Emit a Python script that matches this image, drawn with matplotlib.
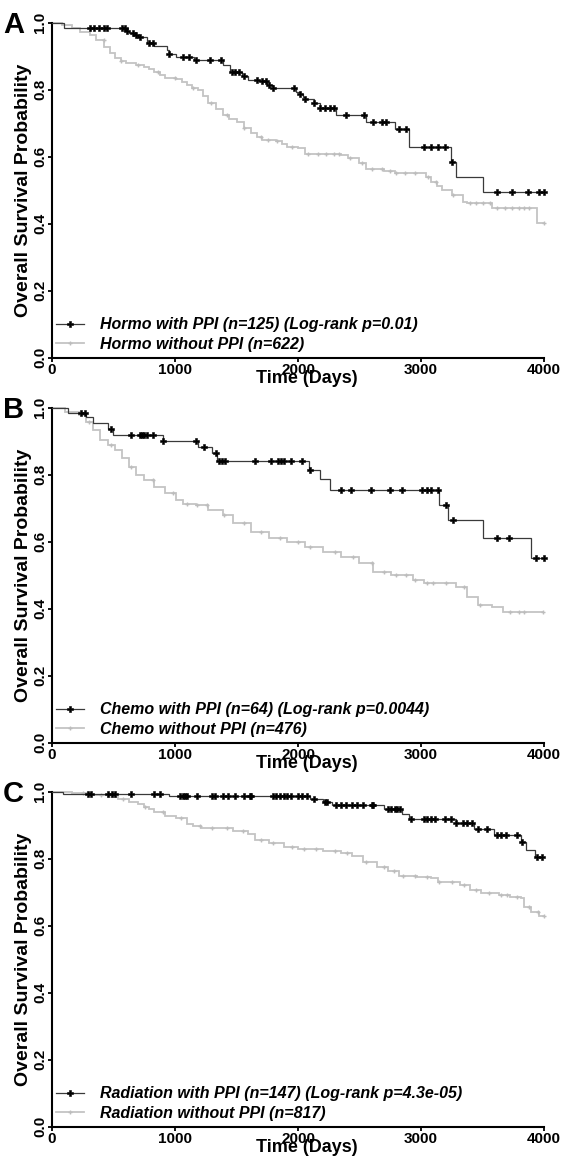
import numpy as np
import matplotlib
matplotlib.use("Agg")
import matplotlib.pyplot as plt
from matplotlib.lines import Line2D

plt.rcParams['font.family'] = ['Liberation Sans', 'DejaVu Sans']

# ---------------- data ----------------
panel_letters = ["A", "B", "C"]
x_ticks = [0, 1000, 2000, 3000, 4000]
y_ticks = [0.0, 0.2, 0.4, 0.6, 0.8, 1.0]
x_label = "Time (Days)"
y_label = "Overall Survival Probability"

# Panel A: Hormo
a_with_label = "Hormo with PPI (n=125) (Log-rank p=0.01)"
a_without_label = "Hormo without PPI (n=622)"
a_with_t = [0, 100, 599, 628, 672, 701, 774, 832, 934, 949, 1007, 1153, 1387, 1445, 1548,
            1591, 1679, 1752, 1796, 1986, 2015, 2044, 2059, 2132, 2175, 2307, 2555, 2789,
            2905, 3241, 3285, 3504]
a_with_s = [1.0, 0.984, 0.976, 0.968, 0.962, 0.956, 0.940, 0.930, 0.918, 0.908, 0.899, 0.888,
            0.874, 0.854, 0.842, 0.830, 0.825, 0.814, 0.804, 0.794, 0.786, 0.779, 0.772,
            0.759, 0.744, 0.724, 0.704, 0.682, 0.630, 0.585, 0.540, 0.495]
a_with_cens = [307, 342, 380, 423, 447, 569, 593, 613, 657, 686, 715, 788, 818, 949, 1066, 1110,
               1168, 1285, 1372, 1460, 1489, 1518, 1562, 1664, 1708, 1737, 1767, 1796, 1971,
               2015, 2059, 2132, 2175, 2219, 2263, 2292, 2394, 2540, 2613, 2686, 2716, 2818,
               2876, 3022, 3081, 3139, 3197, 3250, 3621, 3738, 3869, 3957, 4000]
a_without_t = [0, 80, 161, 230, 307, 360, 423, 470, 511, 560, 599, 680, 745, 790, 832, 880, 920,
               1007, 1060, 1095, 1140, 1183, 1230, 1270, 1330, 1387, 1440, 1504, 1560, 1621,
               1670, 1708, 1825, 1870, 1913, 2000, 2059, 2351, 2409, 2497, 2555, 2701, 2789,
               2978, 3040, 3081, 3130, 3168, 3256, 3343, 3373, 3577, 3942]
a_without_s = [1.0, 0.992, 0.983, 0.973, 0.963, 0.948, 0.928, 0.910, 0.894, 0.885, 0.879,
               0.874, 0.869, 0.862, 0.854, 0.844, 0.834, 0.832, 0.823, 0.814, 0.806, 0.799,
               0.780, 0.759, 0.742, 0.724, 0.714, 0.704, 0.686, 0.670, 0.660, 0.650, 0.647,
               0.638, 0.630, 0.625, 0.608, 0.605, 0.595, 0.580, 0.562, 0.558, 0.552, 0.550,
               0.538, 0.525, 0.512, 0.500, 0.486, 0.466, 0.461, 0.446, 0.401]
a_without_cens = [420, 560, 700, 860, 1000, 1150, 1290, 1420, 1560, 1700, 1760, 1830, 1950,
                  2080, 2160, 2230, 2290, 2330, 2420, 2520, 2600, 2680, 2750, 2800, 2870, 2950,
                  3060, 3120, 3260, 3400, 3450, 3500, 3560, 3620, 3680, 3740, 3800, 3840, 3880,
                  4000]

# Panel B: Chemo
b_with_label = "Chemo with PPI (n=64) (Log-rank p=0.0044)"
b_without_label = "Chemo without PPI (n=476)"
b_with_t = [0, 131, 277, 336, 453, 496, 905, 1183, 1299, 1343, 2088, 2175, 2263, 3150, 3221,
            3504, 3892]
b_with_s = [1.0, 0.985, 0.971, 0.953, 0.936, 0.918, 0.900, 0.882, 0.864, 0.841, 0.814, 0.786,
            0.754, 0.711, 0.665, 0.612, 0.550]
b_with_cens = [234, 272, 482, 642, 715, 730, 745, 774, 818, 905, 1168, 1235, 1337, 1358, 1381,
               1410, 1650, 1781, 1840, 1863, 1883, 1942, 2029, 2097, 2351, 2432, 2593, 2745,
               2847, 3008, 3046, 3081, 3140, 3206, 3262, 3621, 3717, 3936, 4000]
b_without_t = [0, 102, 219, 277, 336, 394, 453, 511, 569, 628, 686, 745, 832, 920, 1007, 1066,
               1168, 1270, 1387, 1475, 1621, 1767, 1913, 2059, 2205, 2351, 2497, 2613, 2759,
               2935, 3022, 3197, 3285, 3373, 3460, 3577, 3665]
b_without_s = [1.0, 0.988, 0.978, 0.958, 0.933, 0.903, 0.889, 0.874, 0.849, 0.824, 0.799,
               0.784, 0.764, 0.744, 0.724, 0.714, 0.709, 0.695, 0.680, 0.655, 0.630, 0.610,
               0.600, 0.585, 0.570, 0.555, 0.537, 0.510, 0.500, 0.486, 0.478, 0.476, 0.464,
               0.436, 0.411, 0.406, 0.391]
b_without_cens = [300, 480, 640, 820, 980, 1100, 1180, 1260, 1400, 1560, 1700, 1850, 2000,
                  2100, 2300, 2450, 2600, 2700, 2800, 2880, 2950, 3050, 3100, 3200, 3350,
                  3480, 3720, 3800, 3840, 3990]

# Panel C: Radiation
c_with_label = "Radiation with PPI (n=147) (Log-rank p=4.3e-05)"
c_without_label = "Radiation without PPI (n=817)"
c_with_t = [0, 88, 949, 2100, 2205, 2278, 2701, 2847, 2905, 3285, 3431, 3592, 3811, 3854, 3927]
c_with_s = [1.0, 0.993, 0.986, 0.977, 0.968, 0.960, 0.947, 0.933, 0.920, 0.907, 0.889, 0.870,
            0.850, 0.826, 0.804]
c_with_cens = [292, 321, 453, 489, 511, 642, 832, 876, 1037, 1066, 1080, 1095, 1177, 1299,
               1329, 1387, 1431, 1489, 1562, 1606, 1621, 1796, 1825, 1854, 1883, 1913, 1942,
               2000, 2029, 2073, 2132, 2219, 2234, 2307, 2351, 2394, 2438, 2482, 2526, 2599,
               2613, 2730, 2759, 2789, 2803, 2832, 2920, 3022, 3051, 3081, 3110, 3197, 3241,
               3285, 3343, 3373, 3416, 3460, 3533, 3621, 3650, 3694, 3782, 3825, 3942, 3986]
c_without_t = [0, 161, 307, 453, 540, 628, 700, 745, 790, 832, 920, 1007, 1095, 1150, 1212,
               1329, 1475, 1591, 1650, 1767, 1883, 2000, 2205, 2351, 2438, 2526, 2643, 2730,
               2818, 2964, 3081, 3139, 3314, 3402, 3489, 3635, 3723, 3811, 3840, 3898, 3957]
c_without_s = [1.0, 0.995, 0.990, 0.983, 0.977, 0.970, 0.962, 0.955, 0.947, 0.940, 0.928,
               0.922, 0.905, 0.898, 0.893, 0.891, 0.883, 0.873, 0.856, 0.846, 0.836, 0.829,
               0.823, 0.818, 0.809, 0.789, 0.776, 0.763, 0.748, 0.744, 0.741, 0.731, 0.721,
               0.706, 0.699, 0.692, 0.687, 0.682, 0.657, 0.642, 0.630]
c_without_cens = [250, 400, 580, 760, 900, 1050, 1200, 1300, 1420, 1550, 1700, 1800, 1950,
                  2050, 2150, 2300, 2400, 2550, 2700, 2780, 2850, 2950, 3050, 3150, 3250,
                  3350, 3450, 3550, 3650, 3700, 3780, 3880, 3950, 4000]

panels = [
    (a_with_t, a_with_s, a_with_cens, a_with_label,
     a_without_t, a_without_s, a_without_cens, a_without_label),
    (b_with_t, b_with_s, b_with_cens, b_with_label,
     b_without_t, b_without_s, b_without_cens, b_without_label),
    (c_with_t, c_with_s, c_with_cens, c_with_label,
     c_without_t, c_without_s, c_without_cens, c_without_label),
]

# ---------------- style ----------------
W, H = 563, 1165
BLACK_LINE = "#3a3a3a"
GRAY = "#c4c4c4"
axes_px = [(22.7, 357.7), (407.7, 742.7), (791.7, 1126.7)]  # top, bottom in pixels
left_px, right_px = 52, 544

fig = plt.figure(figsize=(W / 100, H / 100), dpi=100)


def km_draw(ax, t, s, cens, line_color, lw, mcolor, marker, ms, mew, z):
    t = np.asarray(t, float)
    s = np.asarray(s, float)
    cens = np.asarray(cens, float)
    t_end = max(t[-1], cens.max())
    xs = np.r_[t, t_end]
    ys = np.r_[s, s[-1]]
    ax.step(xs, ys, where="post", color=line_color, lw=lw, zorder=z,
            solid_joinstyle="miter", clip_on=False)
    idx = np.searchsorted(t, cens, side="right") - 1
    ax.plot(cens, s[idx], ls="none", marker=marker, color=mcolor, ms=ms, mew=mew,
            zorder=z + 0.5, clip_on=False)


for i, (wt, ws, wc, wl, ot, os_, oc, ol) in enumerate(panels):
    top, bot = axes_px[i]
    ax = fig.add_axes([left_px / W, 1 - bot / H, (right_px - left_px) / W, (bot - top) / H])
    km_draw(ax, ot, os_, oc, GRAY, 1.3, "#bdbdbd", "+", 3.0, 1.0, 2)
    km_draw(ax, wt, ws, wc, BLACK_LINE, 0.9, "black", "P", 4.2, 0.4, 3)

    ax.set_xlim(0, 4000)
    ax.set_ylim(0, 1)
    for sp in ("top", "right"):
        ax.spines[sp].set_visible(False)
    for sp in ("left", "bottom"):
        ax.spines[sp].set_linewidth(1.5)
    ax.set_xticks(x_ticks)
    ax.set_xticklabels([str(v) for v in x_ticks], fontsize=11, fontweight="bold")
    ax.set_yticks(y_ticks)
    ax.set_yticklabels([f"{v:.1f}" for v in y_ticks], fontsize=11, fontweight="bold",
                       rotation=90, va="center")
    ax.tick_params(axis="both", length=3, width=1.3, pad=0.5)
    ax.set_xlabel(x_label, fontsize=13, fontweight="bold", labelpad=-5)
    ax.xaxis.label.set_x(0.518)
    ax.set_ylabel(y_label, fontsize=14, fontweight="bold", labelpad=1)

    handles = [
        Line2D([], [], color=BLACK_LINE, lw=0.9, marker="P", ms=4.2, mew=0.4,
               markerfacecolor="black", markeredgecolor="black"),
        Line2D([], [], color=GRAY, lw=1.3, marker="+", ms=3.0, mew=1.0,
               markeredgecolor="#bdbdbd"),
    ]
    ax.legend(handles, [wl, ol], loc="lower left", bbox_to_anchor=(0.0075, 0.018),
              frameon=False, borderpad=0, borderaxespad=0, handlelength=1.8,
              handletextpad=0.95, labelspacing=0.28, numpoints=1,
              prop={"size": 11.5, "weight": "bold", "style": "italic"})

    fig.text(3 / W, 1 - (top - 12) / H, panel_letters[i], fontsize=21, fontweight="bold",
             ha="left", va="top")

fig.savefig("out.png", dpi=100)
